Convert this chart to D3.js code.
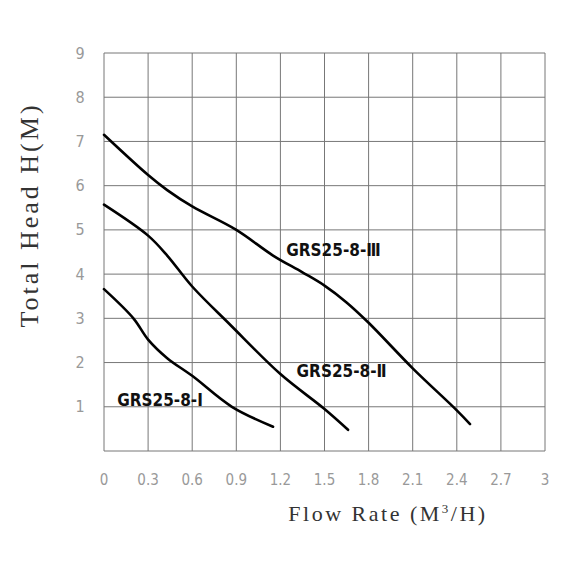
<!DOCTYPE html>
<html>
<head>
<meta charset="utf-8">
<script src="https://cdn.jsdelivr.net/npm/d3@7"></script>
<style>
  html, body { margin: 0; padding: 0; background: #fff; }
  svg { display: block; }
</style>
</head>
<body>
<div id="chart"></div>
<script>
// values
var xTicks = [0, 0.3, 0.6, 0.9, 1.2, 1.5, 1.8, 2.1, 2.4, 2.7, 3]
var xTickLabels = ['0', '0.3', '0.6', '0.9', '1.2', '1.5', '1.8', '2.1', '2.4', '2.7', '3']
var yTicks = [0, 1, 2, 3, 4, 5, 6, 7, 8, 9]
var yTickLabels = ['', '1', '2', '3', '4', '5', '6', '7', '8', '9']

var seriesNames = ['GRS25-8-Ⅰ', 'GRS25-8-Ⅱ', 'GRS25-8-Ⅲ']
var flow1 = [0, 0.2, 0.3, 0.43, 0.6, 0.87, 1.15]
var head1 = [3.66, 3.0, 2.52, 2.1, 1.7, 1.0, 0.55]
var flow2 = [0, 0.3, 0.43, 0.6, 0.86, 1.2, 1.5, 1.66]
var head2 = [5.57, 4.87, 4.42, 3.72, 2.85, 1.74, 0.95, 0.48]
var flow3 = [0, 0.3, 0.43, 0.6, 0.9, 1.15, 1.35, 1.5, 1.65, 1.8, 2.1, 2.4, 2.49]
var head3 = [7.15, 6.24, 5.9, 5.53, 5.0, 4.42, 4.04, 3.74, 3.36, 2.9, 1.87, 0.92, 0.61]
// where each curve's name sits (flow, head)
var labelFlow = [0.09, 1.31, 1.24]
var labelHead = [1.02, 1.67, 4.4]

var width = 570, height = 570
var margin = { left: 104, right: 25, top: 53, bottom: 119 }

var svg = d3.select('#chart')
  .append('svg')
  .attr('width', width)
  .attr('height', height)

var x = d3.scaleLinear()
  .domain([0, 3])
  .range([margin.left, width - margin.right])

var y = d3.scaleLinear()
  .domain([0, 9])
  .range([height - margin.bottom, margin.top])

// grid
var grid = svg.append('g')
grid.selectAll('line.v')
  .data(xTicks)
  .enter().append('line')
  .attr('x1', function(d) { return x(d) })
  .attr('x2', function(d) { return x(d) })
  .attr('y1', y(0))
  .attr('y2', y(9))
  .attr('stroke', '#777')
  .attr('stroke-width', 1)
grid.selectAll('line.h')
  .data(yTicks)
  .enter().append('line')
  .attr('x1', x(0))
  .attr('x2', x(3))
  .attr('y1', function(d) { return y(d) })
  .attr('y2', function(d) { return y(d) })
  .attr('stroke', '#777')
  .attr('stroke-width', 1)

// tick labels
var tickFont = '"DejaVu Sans Condensed", "DejaVu Sans", sans-serif'
svg.append('g').selectAll('text')
  .data(xTicks)
  .enter().append('text')
  .attr('x', function(d) { return x(d) })
  .attr('y', y(0) + 34)
  .attr('text-anchor', 'middle')
  .attr('font-family', tickFont)
  .attr('font-weight', 200)
  .attr('font-size', 15)
  .attr('fill', '#999')
  .text(function(d, i) { return xTickLabels[i] })

svg.append('g').selectAll('text')
  .data(yTicks)
  .enter().append('text')
  .attr('x', 80)
  .attr('y', function(d) { return y(d) })
  .attr('dy', '0.35em')
  .attr('text-anchor', 'middle')
  .attr('font-family', tickFont)
  .attr('font-weight', 200)
  .attr('font-size', 16)
  .attr('fill', '#999')
  .text(function(d, i) { return yTickLabels[i] })

// axis titles
var titleFont = '"Liberation Serif", "DejaVu Serif", serif'
svg.append('text')
  .attr('transform', 'translate(38,215) rotate(-90)')
  .attr('text-anchor', 'middle')
  .attr('font-family', titleFont)
  .attr('font-size', 26)
  .attr('letter-spacing', 3)
  .attr('fill', '#333')
  .text('Total Head H(M)')

var xt = svg.append('text')
  .attr('x', 388)
  .attr('y', 521)
  .attr('text-anchor', 'middle')
  .attr('font-family', titleFont)
  .attr('font-size', 22)
  .attr('letter-spacing', 2.5)
  .attr('fill', '#333')
xt.append('tspan').text('Flow Rate (M')
xt.append('tspan').attr('font-size', 13).attr('dy', -8).text('3')
xt.append('tspan').attr('dy', 8).text('/H)')

// curves
var flows = [flow1, flow2, flow3]
var heads = [head1, head2, head3]
var line = d3.line()
  .x(function(d) { return x(d[0]) })
  .y(function(d) { return y(d[1]) })
  .curve(d3.curveCatmullRom.alpha(0.5))

flows.forEach(function(f, k) {
  var pts = f.map(function(v, i) { return [v, heads[k][i]] })
  svg.append('path')
    .attr('d', line(pts))
    .attr('fill', 'none')
    .attr('stroke', '#000')
    .attr('stroke-width', 2.6)
    .attr('stroke-linecap', 'round')
})

// curve names
svg.append('g').selectAll('text')
  .data(seriesNames)
  .enter().append('text')
  .attr('x', function(d, i) { return x(labelFlow[i]) })
  .attr('y', function(d, i) { return y(labelHead[i]) })
  .attr('font-family', '"Liberation Sans Narrow", "DejaVu Sans Condensed", sans-serif')
  .attr('font-weight', 'bold')
  .attr('font-size', 17)
  .attr('fill', '#111')
  .text(function(d) { return d })
</script>
</body>
</html>
